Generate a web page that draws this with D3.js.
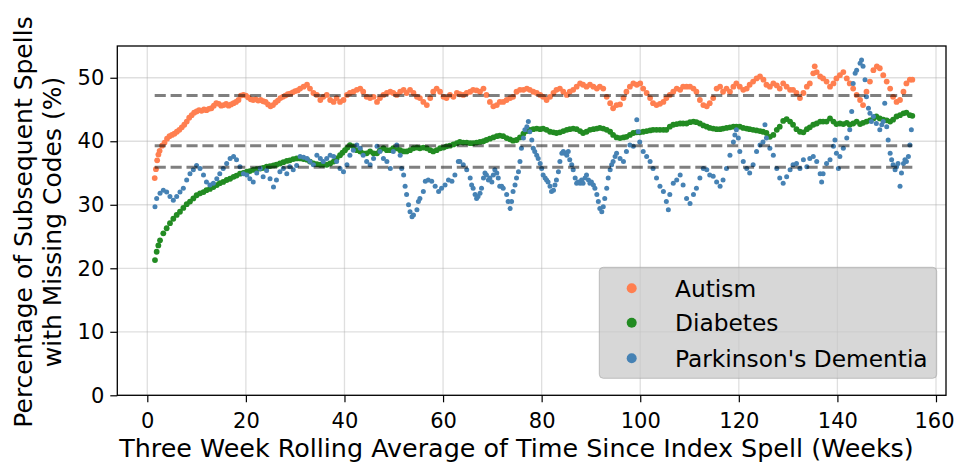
<!DOCTYPE html>
<html><head><meta charset="utf-8">
<script src="https://cdn.jsdelivr.net/npm/d3@7"></script>
<style>body{margin:0;background:#fff} svg{display:block} text{font-family:"DejaVu Sans",sans-serif;fill:#000}</style>
</head><body><svg id="c" width="955" height="464"></svg>
<script>
const seriesNames = ["Autism", "Diabetes", "Parkinson's Dementia"];
const seriesColors = ["#ff7f50", "#228b22", "#4682b4"];
const meanLevels = [47.2, 39.3, 35.9];
const xTicks = [0, 20, 40, 60, 80, 100, 120, 140, 160];
const yTicks = [0, 10, 20, 30, 40, 50];
const xLabel = "Three Week Rolling Average of Time Since Index Spell (Weeks)";
const yLabelLines = ["Percentage of Subsequent Spells", "with Missing Codes (%)"];

// [week, percent]
const autism = [[1.5,34.2],[1.75,35.6],[2.0,37.0],[2.25,37.9],[2.5,38.5],[3.0,39.3],[3.5,39.8],[4.0,40.4],[4.5,40.8],[5.0,41.0],[5.5,41.2],[6.0,41.5],[6.5,41.8],[7.0,42.2],[7.5,42.6],[8.0,43.1],[8.5,43.7],[9.0,44.1],[9.5,44.5],[10.0,44.7],[10.5,44.9],[11,44.8],[11.5,45.0],[12,44.9],[12.5,45.1],[13,45.2],[13.5,45.6],[14,46.0],[14.5,45.9],[15,45.6],[15.5,45.7],[16,45.9],[16.5,45.6],[17,45.8],[17.5,46.0],[18,46.2],[18.5,46.5],[19,47.2],[19.5,47.3],[20,47.2],[20.5,46.9],[21,46.6],[21.5,46.5],[22,46.6],[22.5,46.4],[23,46.5],[23.5,46.3],[24,46.2],[24.5,45.8],[25,45.5],[25.5,45.7],[26,46.1],[26.5,46.4],[27,46.8],[27.5,47.0],[28,47.2],[28.5,47.4],[29,47.5],[29.5,47.7],[30,47.9],[30.5,48.0],
[31.0,48.3],[31.7,48.6],[32.4,48.9],[33.0,48.3],[33.7,47.6],[34.4,47.3],[35.1,46.5],[35.7,47.0],[36.4,47.3],[37.1,46.5],[37.8,46.2],[38.4,46.8],[39.1,46.2],[39.8,46.5],[40.5,47.3],[41.1,47.6],[41.8,47.8],[42.5,48.1],[43.2,48.3],[43.8,47.8],[44.5,47.0],[45.2,46.8],[45.9,47.0],[46.6,46.2],[47.2,46.8],[47.9,47.3],[48.6,47.6],[49.3,47.8],[49.9,47.6],[50.6,47.3],[51.3,47.8],[52.0,48.1],[52.6,47.6],[53.3,48.1],[54.0,47.6],[54.7,47.0],[55.3,46.8],[56.0,46.2],[56.7,45.7],[57.4,46.8],[58.0,47.8],[58.7,48.3],[59.4,47.8],[60.1,47.0],[60.7,46.8],[61.4,47.3],[62.1,47.0],[62.8,47.6],
[63.4,47.4],[64.1,47.3],[64.8,47.6],[65.5,47.8],[66.1,48.1],[66.8,48.0],[67.5,47.8],[68.2,48.3],[68.8,47.3],[69.5,46.2],[70.2,45.5],[70.9,45.7],[71.5,46.2],[72.2,46.2],[72.9,46.5],[73.6,46.8],[74.2,47.0],[74.9,47.8],[75.6,48.1],[76.3,48.1],[77.0,48.3],[77.6,48.1],[78.3,47.8],[79.0,47.6],[79.7,47.3],[80.3,47.0],[81.0,46.5],[81.7,47.0],[82.4,47.6],[83.0,48.1],[83.7,48.3],[84.4,47.8],[85.1,47.3],[85.7,47.8],[86.4,48.1],[87.1,48.6],[87.8,49.1],[88.4,48.9],[89.1,48.6],[89.8,48.9],[90.5,48.6],[91.2,48.3],[91.8,48.6],[92.5,48.3],[93.2,47.0],[93.9,46.0],[94.5,45.2],[95.2,45.7],
[95.9,45.8],[96.6,46.8],[97.2,47.8],[97.9,48.6],[98.6,49.1],[99.3,48.9],[100.0,49.1],[100.6,48.3],[101.3,47.6],[102.0,46.8],[102.6,46.0],[103.3,45.7],[104.0,45.9],[104.7,46.2],[105.3,46.8],[106.0,47.3],[106.7,47.8],[107.4,48.3],[108.1,48.1],[108.7,48.6],[109.4,48.6],[110.1,48.6],[110.8,48.3],[111.4,47.8],[112.1,46.5],[112.8,45.7],[113.5,45.5],[114.1,46.0],[114.8,46.8],[115.5,48.3],[116.2,48.6],[116.8,47.8],[117.5,48.3],[118.2,47.8],[118.9,48.6],[119.5,49.1],[120.2,48.6],[120.9,48.1],[121.6,48.3],[122.2,48.9],[122.9,49.4],[123.6,49.9],[124.3,50.2],[125.0,49.7],[125.6,48.9],[126.3,48.6],[127.0,49.1],[127.7,48.8],
[128.3,48.3],[129.0,49.1],[129.7,48.6],[130.4,48.1],[131.0,48.1],[131.7,47.6],[132.4,46.8],[133.1,47.6],[133.8,48.6],[134.4,49.1],[135.1,50.7],[135.4,51.8],[135.8,50.9],[136.5,50.2],[137.1,49.9],[137.8,49.4],[138.5,48.6],[139.2,49.1],[139.8,49.9],[140.5,50.4],[141.2,50.9],[141.9,49.9],[142.5,49.1],[143.2,48.3],[143.9,47.3],[144.6,46.5],[145.2,45.7],[145.9,47.8],[146.6,49.4],[147.3,51.2],[148.0,51.8],[148.6,51.5],[149.3,50.4],[150.0,49.4],[150.7,48.3],[151.3,47.0],[152.0,46.2],[152.7,46.5],[153.4,47.8],[154.0,49.1],[154.7,49.7],[155.2,49.7]];

const diabetes = [[1.56,21.3],[1.9,22.6],[2.24,23.6],[2.58,24.4],[3.25,25.5],[3.93,26.3],[4.6,27.1],[5.28,27.8],[5.96,28.4],[6.63,28.9],[7.31,29.5],[7.99,30.1],[8.66,30.5],[9.34,31.0],[10.0,31.5],[10.7,31.8],[11.4,32.0],[12.0,32.3],[12.7,32.5],[13.4,32.8],[14.1,33.1],[14.7,33.4],[15.4,33.6],[16.1,33.9],[16.8,34.1],[17.5,34.4],[18.1,34.6],[18.8,34.9],[19.5,35.0],[20.2,35.2],[20.8,35.3],[21.5,35.5],[22.2,35.6],[22.9,35.7],[23.5,35.8],[24.2,36.0],[24.9,36.1],[25.6,36.2],[26.2,36.3],[26.9,36.5],[27.6,36.7],[28.3,36.9],[28.9,37.0],[29.6,37.2],[30.3,37.3],
[31.0,37.3],[31.7,37.2],[32.4,37.1],[33.0,36.8],[33.7,36.5],[34.4,36.4],[35.1,36.3],[35.7,36.3],[36.4,36.3],[37.1,36.5],[37.8,36.8],[38.4,37.3],[39.1,37.8],[39.6,38.2],[40.1,38.6],[40.6,39.0],[41.1,39.4],[41.8,39.2],[42.5,38.6],[43.2,38.4],[43.8,38.1],[44.5,38.1],[45.2,38.4],[45.9,38.1],[46.6,38.1],[47.2,38.6],[47.9,38.9],[48.6,38.6],[49.3,38.6],[49.9,38.9],[50.6,38.9],[51.3,38.6],[52.0,38.4],[52.6,38.4],[53.3,38.6],[54.0,38.9],[54.7,39.0],[55.3,38.9],[56.0,39.0],[56.7,38.9],[57.4,38.6],[58.0,38.4],[58.7,38.6],[59.4,38.9],[60.1,39.0],[60.7,39.2],[61.4,39.3],[62.1,39.5],[62.8,39.7],
[63.4,39.9],[64.1,39.8],[64.8,39.8],[65.5,39.7],[66.1,39.7],[66.8,39.8],[67.5,39.9],[68.2,40.0],[68.8,40.2],[69.5,40.4],[70.2,40.6],[70.9,40.8],[71.5,40.9],[72.2,40.8],[72.9,40.5],[73.6,40.3],[74.2,40.1],[74.9,40.2],[75.6,40.6],[76.3,41.2],[77.0,41.6],[77.6,41.8],[78.3,41.9],[79.0,42.0],[79.7,41.9],[80.3,42.0],[81.0,41.8],[81.7,41.5],[82.4,41.4],[83.0,41.3],[83.7,41.4],[84.4,41.6],[85.1,41.8],[85.7,41.9],[86.4,42.0],[87.1,41.9],[87.8,41.6],[88.4,41.3],[89.1,41.5],[89.8,41.8],[90.5,41.9],[91.2,42.0],[91.8,42.1],[92.5,42.0],[93.2,41.8],[93.9,41.5],[94.5,41.0],[95.2,40.6],
[95.9,40.5],[96.6,40.6],[97.2,40.7],[97.9,41.0],[98.6,41.3],[99.3,41.4],[99.9,41.4],[100.6,41.5],[101.3,41.6],[102.0,41.7],[102.6,41.8],[103.3,41.8],[104.0,41.8],[104.7,41.8],[105.3,41.8],[106.0,42.3],[106.7,42.6],[107.4,42.7],[108.1,42.8],[108.7,42.8],[109.4,42.8],[110.1,43.0],[110.8,43.1],[111.4,43.0],[112.1,42.8],[112.8,42.5],[113.5,42.3],[114.1,42.1],[114.8,42.0],[115.5,41.9],[116.2,41.9],[116.8,42.0],[117.5,42.1],[118.2,42.2],[118.9,42.3],[119.5,42.3],[120.2,42.3],[120.9,42.1],[121.6,42.0],[122.2,41.9],[122.9,41.8],[123.6,41.7],[124.3,41.6],[124.9,41.5],[125.6,41.3],[126.3,40.7],[127.0,41.0],[127.7,41.8],
[128.3,42.3],[129.0,43.2],[129.7,43.5],[130.4,43.1],[131.0,42.6],[131.7,41.9],[132.4,41.5],[133.1,41.4],[133.8,41.9],[134.4,42.2],[135.1,42.6],[135.8,42.8],[136.5,43.1],[137.1,43.1],[137.8,43.1],[138.5,43.6],[139.2,43.1],[139.8,42.7],[140.5,42.8],[141.2,42.7],[141.9,42.9],[142.5,42.6],[143.2,42.8],[143.9,43.1],[144.6,42.7],[145.2,42.9],[145.9,43.1],[146.6,43.3],[147.3,43.6],[147.9,43.9],[148.6,43.6],[149.3,43.4],[150.0,43.3],[150.7,43.1],[151.3,43.4],[152.0,43.9],[152.7,44.1],[153.4,44.4],[154.0,44.5],[154.7,44.1],[155.2,44.0]];

const parkinsons = [[1.56,29.7],[1.9,31.0],[2.58,31.8],[3.25,32.3],[3.93,32.0],[4.6,31.3],[5.28,30.7],[5.96,31.3],[6.63,32.0],[7.31,32.6],[7.99,33.9],[8.66,34.9],[9.34,35.5],[10.0,36.2],[10.7,35.7],[11.4,34.7],[12.0,33.6],[12.7,33.1],[13.4,33.4],[14.1,34.1],[14.7,34.9],[15.4,35.7],[16.1,36.5],[16.8,37.3],[17.5,37.6],[18.1,37.1],[18.8,36.0],[19.5,34.9],[20.2,34.7],[20.8,34.1],[21.5,33.6],[22.2,35.0],[22.9,35.7],[23.5,34.4],[24.2,35.4],[24.9,34.1],[25.6,32.8],[26.2,33.9],[26.9,35.2],[27.6,35.7],[28.3,34.9],[28.9,36.0],[29.6,35.5],[30.3,36.2],
[31.0,37.6],[31.7,37.5],[32.4,37.3],[33.0,36.8],[33.7,36.3],[34.4,37.8],[35.1,37.3],[35.7,36.8],[36.4,37.3],[37.1,37.8],[37.8,37.6],[38.4,36.8],[39.1,35.7],[39.8,35.2],[40.5,36.3],[41.1,37.8],[41.8,38.6],[42.5,39.4],[43.2,38.9],[43.8,37.8],[44.5,36.8],[45.2,36.3],[45.9,37.3],[46.6,39.2],[47.2,38.4],[47.9,37.3],[48.6,36.8],[49.3,35.7],[49.9,38.4],[50.6,39.4],[51.3,37.8],[51.6,35.7],[52.0,34.7],[52.3,32.9],[52.6,31.6],[53.0,30.0],[53.3,28.9],[53.7,28.1],[54.0,28.4],[54.7,29.2],[55.0,30.5],[55.3,31.0],[56.0,32.1],[56.4,33.7],[57.0,33.9],[57.7,33.7],[58.4,32.9],[59.1,32.1],[59.7,32.6],[60.4,33.1],[61.1,33.9],[61.8,33.7],[62.4,34.7],[63.1,36.8],
[63.4,36.8],[64.1,36.3],[64.8,35.5],[65.5,34.2],[65.8,33.1],[66.1,32.6],[66.5,31.6],[66.8,31.0],[67.1,31.3],[67.5,31.8],[67.8,32.6],[68.2,34.2],[68.5,35.0],[68.8,34.7],[69.2,33.9],[69.5,34.2],[69.9,33.6],[70.2,34.7],[70.5,35.5],[70.9,35.0],[71.2,34.2],[71.5,32.9],[71.9,32.9],[72.2,32.6],[72.9,31.6],[73.2,30.5],[73.6,29.4],[73.9,30.5],[74.2,32.1],[74.6,33.1],[74.9,34.2],[75.3,35.2],[75.6,36.8],[75.9,38.9],[76.3,40.5],[76.6,41.8],[77.0,42.3],[77.3,43.1],[77.6,41.5],[78.0,40.2],[78.3,38.9],[78.6,38.4],[79.0,37.8],[79.3,37.3],[79.7,36.5],[80.0,35.7],[80.3,34.7],[80.7,34.2],[81.0,33.9],[81.3,33.6],[81.7,32.9],[82.0,32.1],[82.4,32.3],[82.7,33.1],[83.0,33.9],[83.4,35.2],[83.7,36.8],[84.1,38.1],[84.4,38.4],[84.7,38.1],[85.1,37.8],[85.4,38.4],[85.7,37.1],[86.1,36.3],[86.4,35.5],[86.8,34.2],[87.1,33.4],[87.4,33.6],[87.8,33.4],[88.1,33.9],[88.4,33.4],[88.8,34.2],[89.1,34.7],[89.5,33.9],[89.8,33.4],[90.1,33.6],[90.5,33.1],[90.8,32.6],[91.2,31.6],[91.5,30.5],[91.8,29.4],[92.2,28.9],[92.5,29.7],[92.8,31.0],[93.2,32.6],[93.5,34.2],[93.9,35.5],[94.2,36.3],[94.5,36.8],[94.9,37.6],[95.2,38.1],
[95.9,37.3],[96.6,36.8],[97.2,38.4],[97.9,39.4],[98.6,39.2],[99.3,43.4],[99.6,41.5],[99.9,39.9],[100.6,38.4],[101.3,37.6],[102.0,36.8],[102.6,35.7],[103.3,34.2],[104.0,32.9],[104.7,32.1],[105.3,30.5],[105.7,29.2],[106.0,31.6],[106.7,33.4],[107.4,33.9],[108.1,34.7],[108.7,33.1],[109.4,31.0],[110.1,30.2],[110.8,31.6],[111.4,32.6],[112.1,34.2],[112.8,35.7],[113.5,35.5],[114.1,34.7],[114.8,34.5],[115.5,33.6],[116.2,32.9],[116.8,33.9],[117.5,35.7],[118.2,37.8],[118.9,39.9],[119.2,41.0],[119.5,41.8],[119.9,40.5],[120.2,38.4],[120.9,36.8],[121.6,35.7],[122.2,35.0],[122.9,36.3],[123.6,38.4],[124.3,39.4],[124.9,39.9],[125.3,42.6],[125.6,40.5],[126.3,38.9],[127.0,37.8],[127.7,35.7],
[128.3,34.2],[129.0,33.4],[129.7,34.4],[130.4,35.5],[131.0,36.3],[131.7,36.5],[132.4,35.7],[133.1,37.1],[133.8,36.0],[134.4,37.3],[135.1,37.6],[135.8,36.8],[136.5,34.9],[136.8,33.6],[137.1,34.9],[137.8,36.5],[138.5,37.1],[139.2,39.2],[139.5,40.2],[139.8,38.1],[140.2,35.7],[140.5,37.6],[141.2,38.9],[141.9,40.5],[142.5,41.8],[142.9,44.7],[143.2,49.1],[143.6,50.7],[143.9,51.2],[144.6,52.3],[144.9,52.8],[145.2,51.8],[145.6,49.7],[145.9,47.0],[146.3,45.2],[146.6,44.4],[146.9,43.1],[147.3,43.9],[147.9,42.8],[148.6,41.8],[149.0,42.6],[149.3,43.1],[149.6,46.0],[150.0,42.3],[150.3,40.2],[150.7,38.1],[151.0,37.1],[151.3,36.3],[151.7,35.5],[152.0,36.0],[152.3,36.5],[152.7,32.9],[153.0,35.0],[153.4,36.5],[153.7,37.1],[154.0,36.8],[154.4,37.6],[154.7,39.4],[155.0,41.8]];

const seriesData = [autism, diabetes, parkinsons];

const svg = d3.select("#c");
const L = 117.3, R = 946, T = 46, B = 395.3;
const x = d3.scaleLinear().domain([-6.086, 162.03]).range([L, R]);
const y = d3.scaleLinear().domain([0, 55]).range([B, T]);

// grid
const grid = svg.append("g").attr("stroke", "#b0b0b0").attr("stroke-opacity", 0.4).attr("stroke-width", 1.3);
grid.selectAll(".gx").data(xTicks).join("line")
  .attr("x1", d => x(d)).attr("x2", d => x(d)).attr("y1", T).attr("y2", B);
grid.selectAll(".gy").data(yTicks).join("line")
  .attr("x1", L).attr("x2", R).attr("y1", d => y(d)).attr("y2", d => y(d));

// points
const radii = [2.9, 2.9, 2.5];
seriesData.forEach((data, i) => {
  svg.append("g").selectAll("circle").data(data).join("circle")
    .attr("cx", d => x(d[0])).attr("cy", d => y(d[1]))
    .attr("r", radii[i]).attr("fill", seriesColors[i]);
});

// mean dashed lines
const allWeeks = seriesData.flat().map(d => d[0]);
const [wMin, wMax] = d3.extent(allWeeks);
svg.append("g").selectAll("line").data(meanLevels).join("line")
  .attr("x1", x(wMin)).attr("x2", x(wMax))
  .attr("y1", d => y(d)).attr("y2", d => y(d))
  .attr("stroke", "#000").attr("stroke-opacity", 0.5)
  .attr("stroke-width", 3).attr("stroke-dasharray", "11.1,4.8");

// axes
const fs = 21;
const xAxis = svg.append("g").attr("transform", `translate(0,${B})`)
  .call(d3.axisBottom(x).tickValues(xTicks).tickFormat(d3.format("d")).tickSize(7).tickPadding(10.5));
const yAxis = svg.append("g").attr("transform", `translate(${L},0)`)
  .call(d3.axisLeft(y).tickValues(yTicks).tickFormat(d3.format("d")).tickSize(7).tickPadding(6));
[xAxis, yAxis].forEach(a => {
  a.select(".domain").remove();
  a.selectAll(".tick line").attr("stroke", "#000").attr("stroke-width", 1.2);
  a.selectAll(".tick text").attr("font-size", fs).attr("font-family", "DejaVu Sans").attr("fill", "#000");
});
xAxis.selectAll(".tick text").filter(d => d === 160).attr("dx", -2);

// frame
svg.append("rect").attr("x", L).attr("y", T).attr("width", R - L).attr("height", B - T)
  .attr("fill", "none").attr("stroke", "#000").attr("stroke-width", 1.3);

// labels
svg.append("text").attr("x", 516.5).attr("y", 457).attr("text-anchor", "middle")
  .attr("font-size", 25.4).text(xLabel);
const yl = svg.append("text").attr("transform", "translate(32,222) rotate(-90)")
  .attr("text-anchor", "middle").attr("font-size", 25);
yLabelLines.forEach((t, i) => yl.append("tspan").attr("x", 0).attr("y", i * 28.5).text(t));

// legend
const lg = svg.append("g");
lg.append("rect").attr("x", 599.3).attr("y", 267.3).attr("width", 337.4).attr("height", 111)
  .attr("rx", 4).attr("fill", "#c8c8c8").attr("fill-opacity", 0.72)
  .attr("stroke", "#a0a0a0").attr("stroke-opacity", 0.6).attr("stroke-width", 1);
const rowY = [288.3, 322.7, 358.3];
seriesNames.forEach((n, i) => {
  lg.append("circle").attr("cx", 631.7).attr("cy", rowY[i]).attr("r", 5).attr("fill", seriesColors[i]);
  lg.append("text").attr("x", 675).attr("y", rowY[i] + 8.3).attr("font-size", 23.3).text(n);
});
</script></body></html>
